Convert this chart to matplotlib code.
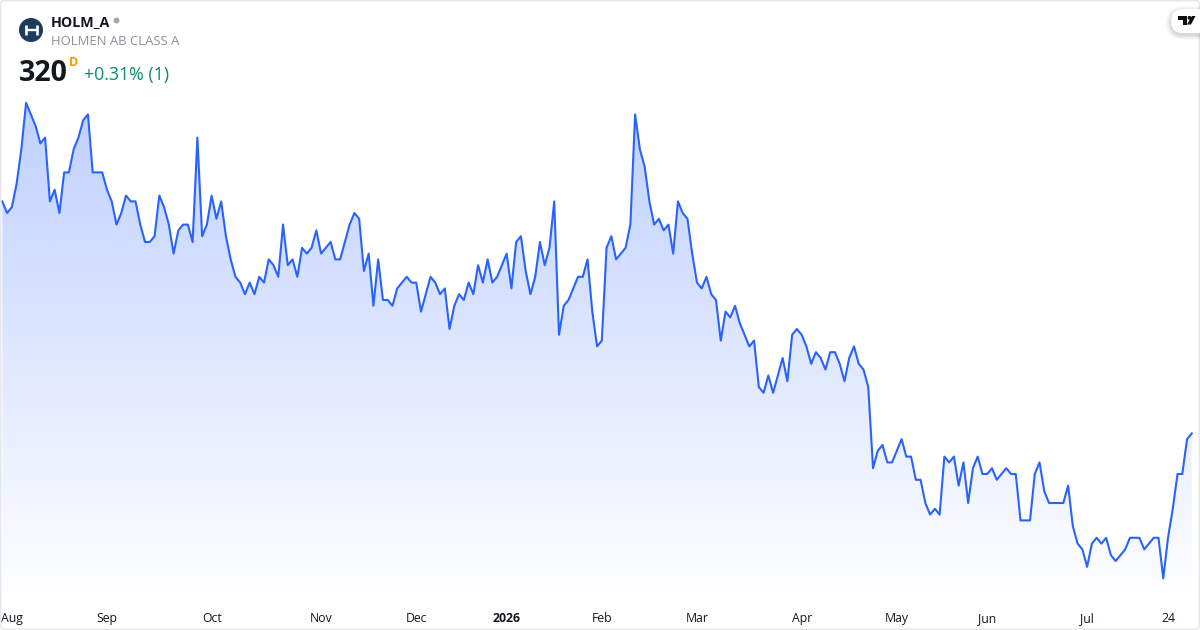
import numpy as np
import matplotlib
matplotlib.use('Agg')
import matplotlib.pyplot as plt
from matplotlib.patches import Circle, FancyBboxPatch, Polygon

plt.rcParams['font.family'] = ['Open Sans', 'DejaVu Sans']

# 收盘价, 从图上读的
closes = [360,358,359,363,369,377,375,373,370,371,360,362,358,365,365,369,371,374,375,365,
          365,365,362,360,356,358,361,360,360,356,353,353,354,361,359,356,351,355,356,356,
          353,371,354,356,361,357,360,354,350,347,346,344,346,344,347,346,350,349,347,356,
          349,350,347,352,351,352,355,351,352,353,350,350,353,356,358,357,348,351,342,350,
          343,343,342,345,346,347,346,346,341,344,347,346,344,345,338,342,344,343,346,344,
          349,346,350,346,347,349,351,345,353,354,348,344,347,353,349,352,360,337,342,343,
          345,347,347,350,341,335,336,352,354,350,351,352,356,375,369,366,360,356,357,355,
          356,351,360,358,357,351,346,345,347,344,343,336,341,340,342,339,337,335,336,328,
          327,330,327,330,333,329,337,338,337,335,332,334,333,331,334,334,332,329,333,335,
          332,331,328,314,317,318,315,315,317,319,316,316,312,312,308,306,307,306,316,315,
          316,311,315,308,314,316,313,313,314,312,313,314,313,313,305,305,305,313,315,310,
          308,308,308,308,311,304,301,300,297,301,302,301,302,299,298,299,300,302,302,302,
          300,301,302,302,295,302,307,313,313,319,320]
tick_idx = [2, 22, 44, 67, 87, 106, 126, 146, 168, 188, 207, 228, 245]
tick_labels = ['Aug', 'Sep', 'Oct', 'Nov', 'Dec', '2026', 'Feb', 'Mar', 'Apr', 'May', 'Jun', 'Jul', '24']

closes = np.array(closes, dtype=float)
idx = np.arange(len(closes))

W, H = 1200, 630
fig = plt.figure(figsize=(12, 6.3), dpi=100, facecolor='white')

# 坐标轴像素范围 x 1-1199, y 0-604
ax = fig.add_axes([1 / W, (H - 604) / H, 1198 / W, 604 / H])
step = 4.758
ax.set_xlim((1 - 2.3) / step, (1199 - 2.3) / step)
px_per_unit = 5.8
base_y = 433.4
ax.set_ylim(320 - (604 - base_y) / px_per_unit, 320 + base_y / px_per_unit)
for s in ax.spines.values():
    s.set_visible(False)
ax.set_yticks([])
ax.set_xticks(tick_idx)
ax.set_xticklabels(tick_labels)
ax.tick_params(axis='x', length=0, pad=0, labelsize=8.8, labelcolor='#131722')
for lab in ax.get_xticklabels():
    lab.set_verticalalignment('baseline')
    lab.set_y(-0.030)
    if lab.get_text() == '2026':
        lab.set_fontweight('bold')

# 渐变填充
y0, y1 = ax.get_ylim()
top = closes.max()
n = 400
levels = np.linspace(y1, y0, n)
rgba = np.zeros((n, 1, 4))
rgba[..., 0] = 41 / 255
rgba[..., 1] = 98 / 255
rgba[..., 2] = 1.0
rgba[:, 0, 3] = 0.3 * np.clip((levels - y0) / (top - y0), 0, 1)
im = ax.imshow(rgba, aspect='auto', extent=[idx[0], idx[-1], y0, y1], origin='upper', zorder=1,
               interpolation='bilinear')
poly = Polygon(np.column_stack([np.r_[idx[0], idx, idx[-1]], np.r_[y0, closes, y0]]),
               closed=True, transform=ax.transData, facecolor='none', edgecolor='none')
ax.add_patch(poly)
im.set_clip_path(poly)
ax.set_xlim((1 - 2.3) / step, (1199 - 2.3) / step)
ax.set_ylim(y0, y1)

ax.plot(idx, closes, color='#2962FF', lw=1.5, solid_joinstyle='round', zorder=2)

# 外层, 用像素坐标放表头和logo
ov = fig.add_axes([0, 0, 1, 1], facecolor='none')
ov.set_xlim(0, W)
ov.set_ylim(H, 0)
ov.axis('off')

ov.add_patch(FancyBboxPatch((0.75, 0.75), W - 1.5, H - 1.5, boxstyle='round,pad=0,rounding_size=3',
                            facecolor='none', edgecolor='#E6E8ED', lw=1.1))

ov.add_patch(Circle((31, 30), 12, facecolor='#1E3A5F', edgecolor='none'))
ov.plot([25.5, 25.5], [25, 35], color='white', lw=1.9, solid_capstyle='butt')
ov.plot([36.5, 36.5], [25, 35], color='white', lw=1.9, solid_capstyle='butt')
ov.plot([25.5, 36.5], [30, 30], color='white', lw=1.7, solid_capstyle='butt')

ov.text(51, 26, 'HOLM_A', fontsize=10.3, fontweight='bold', color='#131722', va='baseline', ha='left')
ov.add_patch(Circle((116.5, 20.5), 3, facecolor='#A3A6AF', edgecolor='none'))
ov.text(51, 45, 'HOLMEN AB CLASS A', fontsize=9.45, color='#8C8F98', va='baseline', ha='left')
ov.text(19, 81, '320', fontsize=20.5, fontweight='bold', color='#131722', va='baseline', ha='left')
ov.text(69, 66, 'D', fontsize=9, fontweight='bold', color='#FF9800', va='baseline', ha='left')
ov.text(84, 80, '+0.31% (1)', fontsize=12.75, color='#0B8A72', va='baseline', ha='left')

# TradingView 角标
for off, a in [(5, 0.02), (4, 0.025), (3, 0.03), (2, 0.035), (1, 0.04)]:
    ov.add_patch(FancyBboxPatch((1171 - off, 9 - off + 2), 40 + 2 * off, 24 + 2 * off,
                                boxstyle='round,pad=0,rounding_size=%d' % (12 + off),
                                facecolor='black', edgecolor='none', alpha=a, clip_on=True))
ov.add_patch(FancyBboxPatch((1171, 9), 40, 24, boxstyle='round,pad=0,rounding_size=12',
                            facecolor='white', edgecolor='none'))
ov.add_patch(Polygon([(1177.5, 16), (1187, 16), (1187, 24.5), (1183, 24.5), (1183, 20), (1177.5, 20)],
                     closed=True, facecolor='#0F0F0F', edgecolor='none'))
ov.add_patch(Circle((1189.5, 17.8), 1.9, facecolor='#0F0F0F', edgecolor='none'))
ov.add_patch(Polygon([(1192, 16), (1195.5, 16), (1191, 24.5), (1187, 24.5)],
                     closed=True, facecolor='#0F0F0F', edgecolor='none'))

fig.savefig('out.png', dpi=100)
